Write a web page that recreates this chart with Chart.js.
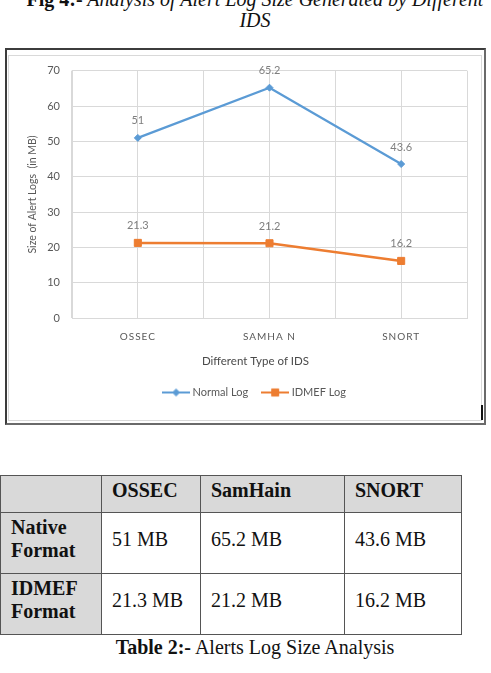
<!DOCTYPE html>
<html>
<head>
<meta charset="utf-8">
<script src="https://cdn.jsdelivr.net/npm/chart.js@4.4.0/dist/chart.umd.min.js"></script>
<style>
  html, body { margin: 0; padding: 0; background: #fff; }
  body { width: 491px; height: 673px; overflow: hidden; position: relative; }
  .cap {
    position: absolute; left: 0; width: 510px; text-align: center; white-space: nowrap;
    font-family: 'Liberation Serif', 'Times New Roman', serif; font-size: 20px; color: #111;
  }
  #figCap { top: -11px; line-height: 21px; font-style: italic; }
  #figCap b { font-style: normal; }
  #tableCap { top: 636px; line-height: 23px; }
  #frameOuter {
    position: absolute; left: 5px; top: 48px; width: 481px; height: 377px; box-sizing: border-box;
    border: 2px solid #3c3c3c; border-right-color: #6a6a6a; border-bottom-color: #6a6a6a;
  }
  #frameInner {
    position: absolute; left: 8px; top: 55px; width: 474px; height: 366px; box-sizing: border-box;
    border: 1px solid #d9d9d9;
  }
  #mark { position: absolute; left: 481px; top: 405px; width: 2px; height: 15px; background: #111; }
  #chart { position: absolute; left: 8px; top: 56px; }
  table {
    position: absolute; left: 0; top: 475px; width: 461px; border-collapse: collapse; table-layout: fixed;
    font-family: 'Liberation Serif', 'Times New Roman', serif; font-size: 20px; color: #111;
  }
  th, td {
    border: 1px solid #555; padding: 0 10px 8px 10px; text-align: left; vertical-align: middle;
    line-height: 23px;
  }
  th { background: #d9d9d9; font-weight: bold; }
  td.rowHead { background: #d9d9d9; font-weight: bold; }
  tr.top { height: 37px; }
  tr.body { height: 61px; }
</style>
</head>
<body>
<div id="figCap" class="cap"><b>Fig 4:-</b> Analysis of Alert Log Size Generated by Different<br>IDS</div>

<div id="frameOuter"></div>
<div id="frameInner"></div>
<canvas id="chart" width="485" height="363"></canvas>
<div id="mark"></div>

<table id="sizeTable">
  <colgroup><col style="width:101px"><col style="width:99px"><col style="width:144px"><col style="width:117px"></colgroup>
  <thead></thead>
  <tbody></tbody>
</table>
<div id="tableCap" class="cap"><b>Table 2:-</b> Alerts Log Size Analysis</div>

<script>
// chart data
const categories = ['OSSEC', 'SAMHA N', 'SNORT'];
const normalLog = [51, 65.2, 43.6];
const idmefLog = [21.3, 21.2, 16.2];
const yTicks = { min: 0, max: 70, step: 10 };

// table data
const tableCols = ['OSSEC', 'SamHain', 'SNORT'];
const tableRows = ['Native<br>Format', 'IDMEF<br>Format'];
const tableUnit = ' MB';

const BLUE = '#5b9bd5';
const ORANGE = '#ed7d31';
const GRID = '#d9d9d9';
const TEXT = '#595959';
const FONT = 'Lato';

// build the table
const thead = document.querySelector('#sizeTable thead');
const tbody = document.querySelector('#sizeTable tbody');
thead.innerHTML = '<tr class="top"><th></th>' + tableCols.map(c => `<th>${c}</th>`).join('') + '</tr>';
[normalLog, idmefLog].forEach((vals, r) => {
  tbody.innerHTML += `<tr class="body"><td class="rowHead">${tableRows[r]}</td>` +
    vals.map(v => `<td>${v}${tableUnit}</td>`).join('') + '</tr>';
});

// legend icon : line with the marker in the middle
function legendIcon(color, style, radius) {
  const c = document.createElement('canvas');
  c.width = 28; c.height = 12;
  const g = c.getContext('2d');
  g.strokeStyle = color;
  g.lineWidth = 2;
  g.beginPath(); g.moveTo(0, 6); g.lineTo(28, 6); g.stroke();
  g.fillStyle = color;
  g.lineWidth = 1;
  Chart.helpers.drawPoint(g, { pointStyle: style, radius: radius, borderWidth: 1 }, 14, 6);
  return c;
}

// value labels above points, letter spacing for the x tick labels (drawn after datasets)
const valueLabels = {
  id: 'valueLabels',
  afterDatasetsDraw(chart) {
    const ctx = chart.ctx;
    ctx.save();
    ctx.font = `11px ${FONT}`;
    ctx.fillStyle = '#7f7f7f';
    ctx.textAlign = 'center';
    ctx.textBaseline = 'middle';
    chart.data.datasets.forEach((ds, i) => {
      chart.getDatasetMeta(i).data.forEach((pt, j) => {
        ctx.fillText(String(ds.data[j]), pt.x, pt.y - 17);
      });
    });
    ctx.restore();
    ctx.letterSpacing = '1px';
  },
  afterDraw(chart) {
    chart.ctx.letterSpacing = '0px';
  }
};

new Chart(document.getElementById('chart'), {
  type: 'line',
  data: {
    labels: categories,
    datasets: [{
      label: 'Normal Log',
      data: normalLog,
      borderColor: BLUE,
      backgroundColor: BLUE,
      borderWidth: 2.25,
      pointStyle: 'rectRot',
      pointRadius: 3.5,
      pointBorderWidth: 1,
      tension: 0
    }, {
      label: 'IDMEF Log',
      data: idmefLog,
      borderColor: ORANGE,
      backgroundColor: ORANGE,
      borderWidth: 2.5,
      pointStyle: 'rect',
      pointRadius: 5,
      pointBorderWidth: 1,
      tension: 0
    }]
  },
  options: {
    responsive: false,
    animation: false,
    layout: { padding: { left: 10, right: 0, top: 14.7, bottom: 11 } },
    scales: {
      x: {
        offset: true,
        grid: { color: GRID, offset: true, drawTicks: false },
        border: { color: GRID },
        ticks: { color: TEXT, font: { family: FONT, size: 10 }, padding: 13, z: 1 },
        afterFit(s) { s.height = 25; }
      },
      xMid: {
        type: 'category',
        position: 'bottom',
        offset: true,
        grid: { color: GRID, offset: false, drawTicks: false },
        border: { display: false },
        ticks: { display: false },
        afterFit(s) { s.height = 0; }
      },
      y: {
        min: yTicks.min,
        max: yTicks.max,
        ticks: { stepSize: yTicks.step, color: TEXT, font: { family: FONT, size: 11 }, padding: 12 },
        grid: { color: GRID, drawTicks: false },
        border: { color: GRID },
        title: {
          display: true,
          text: 'Size of Alert Logs  (in MB)',
          color: TEXT,
          font: { family: FONT, size: 10.5 },
          padding: { top: 8, bottom: 8 }
        },
        afterFit(s) {
          s.width = 54;
          s.paddingTop = 0;
          s.paddingBottom = 0;
        }
      },
      // empty strip on the right so title and legend sit where Excel put them
      yPad: {
        type: 'linear',
        position: 'right',
        grid: { display: false },
        border: { display: false },
        ticks: { display: false },
        afterFit(s) { s.width = 26; }
      }
    },
    plugins: {
      title: {
        display: true,
        position: 'bottom',
        weight: 500,
        text: 'Different Type of IDS',
        color: '#4a4a4a',
        font: { family: FONT, size: 11.5, weight: 'normal' },
        padding: { top: 11, bottom: 3 }
      },
      legend: {
        position: 'bottom',
        labels: {
          color: TEXT,
          font: { family: FONT, size: 11 },
          usePointStyle: true,
          pointStyleWidth: 22,
          padding: 16,
          generateLabels(chart) {
            const items = Chart.defaults.plugins.legend.labels.generateLabels(chart);
            items[0].pointStyle = legendIcon(BLUE, 'rectRot', 3.5);
            items[1].pointStyle = legendIcon(ORANGE, 'rect', 5);
            return items;
          }
        }
      },
      tooltip: { enabled: false }
    }
  },
  plugins: [valueLabels]
});
</script>
</body>
</html>
